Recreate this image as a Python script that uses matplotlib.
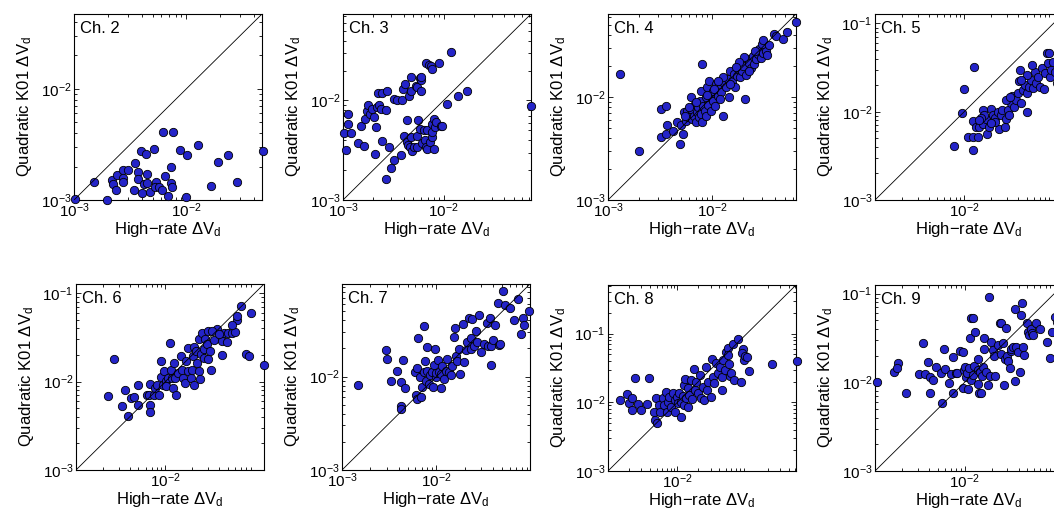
import numpy as np
import matplotlib.pyplot as plt
from matplotlib.ticker import LogLocator, FixedLocator, NullFormatter, LogFormatterSciNotation

plt.rcParams['font.family'] = ['Liberation Sans', 'DejaVu Sans']
plt.rcParams['mathtext.fontset'] = 'custom'
plt.rcParams['mathtext.rm'] = 'Liberation Sans'
plt.rcParams['mathtext.it'] = 'Liberation Sans:italic'
plt.rcParams['mathtext.bf'] = 'Liberation Sans:bold'

# (high-rate dVd, quadratic K01 dVd) pairs, in units of 1e-3
ch2_pts = [(1.02, 1.02), (1.50, 1.46), (1.95, 1.0), (2.16, 1.51), (2.24, 1.39), (2.40, 1.67),
           (2.38, 1.23), (2.73, 1.85), (2.75, 1.58), (2.75, 1.45), (3.05, 1.85), (3.47, 2.16),
           (3.42, 1.22), (3.74, 1.79), (3.71, 1.54), (3.92, 2.75), (4.0, 1.15), (4.2, 1.40),
           (4.4, 2.60), (4.5, 1.70), (4.5, 1.43), (4.75, 1.18), (5.19, 2.90), (5.33, 1.46),
           (5.2, 1.30), (5.67, 1.31), (6.03, 1.23), (6.24, 4.09), (6.46, 1.65), (6.92, 1.09),
           (7.25, 1.41), (7.35, 2.0), (7.45, 1.31), (7.55, 4.09), (8.79, 2.84), (10.1, 2.55),
           (10.0, 1.06), (12.7, 3.15), (16.5, 1.35), (19.1, 2.19), (23.2, 2.55), (28.1, 1.46),
           (48.1, 2.75)]
ch3_pts = [(1.03, 4.71), (1.08, 3.16), (1.11, 7.24), (1.11, 5.75), (1.20, 4.75), (1.41, 3.74),
           (1.51, 5.58), (1.61, 3.47), (1.67, 6.55), (1.74, 7.76), (1.79, 8.91), (1.85, 7.36),
           (1.95, 8.26), (2.03, 6.81), (2.15, 5.41), (2.09, 2.88), (2.19, 8.58), (2.27, 9.05),
           (2.36, 8.26), (2.24, 11.8), (2.45, 12.0), (2.69, 7.94), (2.71, 12.6), (2.42, 3.92),
           (2.67, 1.63), (2.88, 3.41), (2.97, 2.11), (3.24, 2.53), (3.2, 10.4), (3.41, 10.2),
           (3.78, 2.86), (3.89, 10.2), (3.98, 13.1), (4.17, 14.5), (4.04, 4.43), (4.30, 6.31),
           (4.3, 3.83), (4.4, 3.61), (4.54, 11.2), (4.71, 12.6), (4.6, 3.41), (4.7, 4.30),
           (4.79, 17.4), (4.90, 3.11), (5.09, 3.41), (5.29, 14.1), (5.4, 13.6), (5.41, 4.37),
           (5.58, 6.31), (5.5, 3.41), (5.80, 5.21), (5.85, 16.9), (5.9, 16.0), (6.03, 17.4),
           (6.0, 12.6), (6.17, 3.74), (6.41, 5.01), (6.5, 4.04), (6.65, 3.41), (6.9, 5.01),
           (6.65, 23.8), (6.81, 3.26), (7.19, 22.9), (7.4, 3.83), (7.47, 22.2), (7.6, 4.30),
           (7.6, 20.7), (7.7, 4.82), (7.75, 5.84), (8.07, 6.55), (8.07, 3.28), (8.2, 5.41),
           (8.5, 6.12), (8.91, 23.8), (9.4, 5.5), (9.6, 5.5), (10.8, 9.12), (13.9, 11.0),
           (17.2, 12.6), (11.8, 30.4), (74.1, 8.77)]
ch4_pts = [(1.31, 16.9), (1.98, 2.99), (3.2, 7.66), (3.57, 8.25), (3.2, 4.08), (3.57, 4.33),
           (3.71, 5.29), (4.24, 4.63), (4.56, 5.7), (4.88, 3.47), (5.25, 4.33), (4.99, 5.29),
           (5.37, 7.11), (5.65, 5.91), (5.8, 7.38), (5.91, 6.37), (6.22, 7.66), (6.3, 9.93),
           (6.45, 6.14), (6.7, 6.61), (6.8, 8.56), (6.96, 5.7), (7.22, 7.11), (7.3, 7.94),
           (7.5, 6.37), (7.65, 9.22), (7.78, 11.5), (7.9, 6.86), (8.07, 20.8), (8.07, 5.7),
           (8.25, 8.25), (8.5, 7.38), (8.7, 9.93), (8.75, 6.61), (9.02, 12.6), (9.2, 8.43),
           (9.36, 14.4), (9.55, 10.4), (9.7, 7.38), (10.1, 9.22), (10.3, 11.5), (10.6, 8.13),
           (10.8, 13.3), (11.3, 10.3), (11.7, 11.9), (12.1, 11.1), (12.6, 6.61), (13.1, 13.8),
           (13.5, 12.4), (14.1, 14.9), (14.5, 9.93), (14.9, 17.9), (15.4, 14.4), (16.1, 16.9),
           (16.5, 12.6), (17.3, 16.1), (17.8, 18.6), (18.7, 15.5), (19.2, 17.9), (19.9, 20.1),
           (20.8, 9.5), (21.0, 16.4), (22.0, 23.3), (22.8, 21.6), (23.6, 19.3), (24.5, 25.1),
           (25.5, 20.8), (26.4, 23.3), (27.4, 26.0), (28.5, 29.0), (29.5, 24.1), (30.7, 27.0),
           (31.8, 31.3), (33.0, 28.0), (34.0, 25.7), (39.6, 41.1), (41.0, 39.0), (47.7, 37.0),
           (52.1, 43.0), (64.0, 53.7), (20.3, 24.5), (18.0, 22.0), (12.6, 15.5), (11.3, 14.4),
           (6.0, 8.0), (7.0, 9.0), (9.0, 10.5), (10.5, 12.0), (5.5, 6.5), (12.0, 9.5),
           (15.0, 13.5), (17.0, 19.5), (22.5, 18.0), (26.0, 28.0), (30.0, 33.0), (31.0, 35.5),
           (35.0, 32.0)]
ch5_pts = [(7.7, 4.12), (9.9, 17.9), (9.5, 9.8), (12.9, 31.8), (11.1, 5.12), (12.5, 7.91),
           (12.6, 5.12), (12.6, 3.68), (14.4, 5.12), (13.6, 6.76), (14.7, 6.8), (16.1, 7.25),
           (17.6, 8.19), (17.8, 5.54), (19.2, 6.76), (20.0, 10.6), (20.9, 9.17), (22.0, 8.41),
           (23.8, 10.0), (24.5, 6.31), (26.0, 9.17), (26.5, 10.4), (28.4, 6.65), (29.5, 8.33),
           (31.0, 10.4), (32.0, 9.17), (33.8, 12.4), (34.5, 15.0), (36.0, 11.4), (38.5, 13.6),
           (40.0, 16.4), (42.0, 29.6), (41.0, 22.2), (43.5, 12.4), (45.7, 17.6), (47.5, 20.0),
           (49.9, 10.0), (51.0, 16.2), (52.8, 19.1), (55.9, 22.8), (59.0, 18.5), (62.0, 28.4),
           (64.5, 21.0), (67.7, 24.9), (70.0, 18.9), (73.8, 31.0), (79.0, 18.0), (80.0, 27.5),
           (84.0, 45.7), (89.0, 45.7), (86.0, 35.3), (91.0, 24.5), (94.0, 29.5), (99.0, 36.7),
           (104, 28.5), (109, 21.0), (113, 37.0), (16.1, 10.4), (16.8, 9.17), (15.4, 8.41),
           (14.7, 8.05), (22.0, 7.7), (20.0, 7.4), (29.7, 13.6), (49.9, 25.8), (57.0, 33.8),
           (43.5, 22.8), (33.0, 14.8)]
ch6_pts = [(2.27, 6.93), (2.66, 17.8), (3.3, 5.24), (3.54, 8.11), (3.77, 4.04), (4.11, 6.58),
           (4.48, 6.65), (4.89, 5.48), (4.89, 9.25), (6.19, 7.11), (6.76, 9.49), (6.8, 5.48),
           (6.8, 4.48), (6.6, 7.11), (7.43, 7.11), (7.7, 8.47), (8.11, 9.25), (8.4, 7.11),
           (8.85, 11.2), (8.9, 17.0), (9.4, 9.25), (9.66, 13.1), (10.1, 10.1), (10.2, 9.01),
           (10.7, 11.0), (11.4, 27.5), (11.7, 13.7), (11.9, 11.0), (12.4, 16.3), (12.3, 8.47),
           (12.7, 11.0), (13.3, 7.11), (13.9, 12.5), (14.9, 19.4), (15.4, 13.7), (15.8, 11.0),
           (16.6, 9.66), (17.0, 17.0), (17.8, 13.1), (18.1, 23.7), (19.4, 11.0), (19.7, 13.7),
           (20.2, 19.4), (21.1, 9.25), (21.1, 24.5), (22.0, 22.1), (22.5, 16.3), (23.5, 30.0),
           (24.0, 13.1), (24.5, 10.7), (25.0, 20.3), (25.6, 35.7), (26.8, 23.1), (27.0, 18.5),
           (27.9, 30.0), (29.0, 26.3), (29.8, 37.3), (30.3, 17.8), (31.7, 22.1), (32.5, 13.7),
           (34.6, 29.7), (38.0, 39.0), (43.3, 19.8), (43.3, 28.7), (45.0, 35.7), (49.2, 28.3),
           (50.0, 35.7), (56.2, 35.0), (60.0, 36.0), (63.0, 49.8), (64.0, 55.3), (70.0, 71.8),
           (90.8, 59.3), (80.0, 20.3), (87.0, 19.4), (127, 15.6), (33.3, 37.3), (39.7, 34.5),
           (56.2, 44.0)]
ch7_pts = [(1.47, 8.22), (2.91, 19.4), (3.01, 15.4), (3.32, 9.06), (3.79, 11.4), (4.18, 8.7),
           (4.18, 4.8), (4.18, 4.53), (4.46, 15.0), (4.68, 7.51), (5.88, 11.1), (6.04, 6.28),
           (6.3, 5.78), (6.3, 12.3), (6.44, 26.2), (6.7, 10.0), (6.9, 6.03), (7.1, 7.7),
           (7.3, 11.3), (7.39, 34.9), (7.7, 9.06), (7.5, 14.6), (7.9, 20.5), (8.0, 11.6),
           (8.36, 8.36), (8.55, 10.3), (8.9, 11.3), (9.3, 7.7), (9.45, 13.4), (9.7, 19.7),
           (9.8, 10.0), (10.0, 11.0), (10.4, 15.0), (10.7, 11.3), (11.1, 7.6), (11.2, 10.7),
           (11.6, 13.1), (12.0, 9.4), (12.5, 11.6), (13.0, 15.4), (13.7, 11.3), (14.2, 10.3),
           (14.8, 13.1), (15.2, 26.7), (15.8, 33.5), (16.0, 16.7), (16.7, 14.6), (17.4, 19.7),
           (17.7, 10.7), (18.9, 36.3), (19.7, 14.3), (20.5, 19.2), (21.3, 23.2), (21.9, 42.8),
           (23.0, 26.2), (24.0, 41.0), (23.0, 19.7), (25.0, 21.3), (26.2, 30.8), (27.2, 23.2),
           (28.5, 45.7), (30.0, 18.3), (32.0, 22.2), (34.0, 37.9), (35.0, 21.2), (37.0, 42.8),
           (37.8, 13.3), (37.8, 21.2), (40.0, 24.5), (41.5, 35.8), (44.5, 60.8), (45.5, 21.9),
           (47.0, 22.2), (50.4, 82.2), (53.5, 57.8), (60.8, 54.7), (66.0, 40.1), (73.9, 68.1),
           (78.0, 28.4), (82.0, 42.8), (84.0, 35.8), (96.8, 50.4)]
ch8_pts = [(1.51, 10.8), (1.85, 13.2), (2.0, 9.67), (2.19, 11.7), (2.24, 7.73), (2.42, 22.9),
           (2.7, 9.35), (2.96, 7.73), (3.62, 9.35), (3.91, 22.4), (4.62, 7.31), (4.76, 5.53),
           (4.89, 11.7), (5.05, 4.95), (5.35, 9.1), (5.65, 7.31), (6.11, 11.4), (6.3, 9.1),
           (6.84, 14.3), (7.0, 7.31), (7.4, 10.2), (7.6, 12.1), (8.1, 8.65), (8.55, 13.6),
           (9.1, 10.8), (9.2, 7.31), (9.9, 12.1), (10.1, 9.7), (10.7, 13.8), (11.1, 6.18),
           (11.3, 10.2), (11.9, 12.4), (12.6, 17.9), (12.6, 9.1), (13.0, 21.6), (13.3, 11.4),
           (14.1, 16.0), (14.4, 8.65), (14.9, 12.7), (15.8, 21.0), (16.2, 11.0), (17.1, 30.6),
           (17.7, 15.1), (18.7, 19.9), (19.8, 13.6), (20.9, 25.0), (22.0, 11.4), (23.0, 16.8),
           (24.0, 10.8), (25.5, 32.4), (27.0, 15.1), (28.0, 19.9), (30.0, 12.1), (31.0, 42.3),
           (33.0, 23.5), (34.0, 18.9), (36.5, 37.0), (38.5, 26.5), (41.0, 32.4), (43.3, 15.1),
           (43.3, 23.1), (46.0, 41.4), (49.0, 30.0), (50.0, 54.7), (53.0, 61.0), (54.0, 49.0),
           (55.0, 36.0), (57.0, 24.0), (60.0, 26.5), (62.5, 70.7), (66.0, 21.0), (75.6, 82.6),
           (82.0, 19.9), (87.0, 59.0), (86.0, 53.0), (90.0, 41.4), (95.0, 47.0), (99.0, 45.0),
           (106, 28.9), (231, 35.7), (520, 40.4)]
ch9_pts = [(1.06, 10.2), (1.61, 13.2), (1.79, 16.7), (1.75, 14.4), (2.22, 7.64), (3.08, 12.3),
           (3.45, 27.5), (3.65, 12.3), (3.93, 17.1), (4.1, 11.4), (4.1, 7.51), (4.47, 10.6),
           (4.73, 15.0), (5.41, 12.6), (5.65, 5.8), (5.9, 23.8), (6.0, 14.0), (6.71, 9.75),
           (6.99, 12.5), (7.32, 19.5), (7.32, 7.64), (7.98, 12.6), (8.3, 12.6), (8.93, 22.6),
           (9.5, 22.2), (9.7, 8.56), (9.9, 13.8), (10.1, 15.0), (10.4, 11.6), (10.6, 12.6),
           (10.8, 8.3), (11.3, 14.4), (11.5, 31.9), (11.8, 52.7), (12.3, 52.7), (11.8, 10.6),
           (12.3, 12.2), (12.6, 15.3), (12.9, 37.3), (14.0, 18.2), (14.0, 13.8), (14.2, 9.57),
           (14.6, 7.51), (15.0, 13.0), (15.3, 7.51), (15.5, 11.8), (16.0, 14.8), (16.3, 31.3),
           (16.6, 23.6), (17.4, 13.2), (18.2, 9.3), (18.7, 92.5), (19.4, 11.8), (19.8, 28.8),
           (20.7, 23.0), (21.2, 19.6), (21.6, 11.8), (23.6, 26.4), (24.5, 46.3), (25.5, 46.3),
           (25.5, 20.9), (26.7, 28.0), (27.5, 9.3), (28.0, 18.2), (29.0, 40.5), (29.8, 20.0),
           (30.5, 17.6), (31.7, 14.4), (32.5, 22.8), (33.0, 24.0), (34.5, 25.0), (36.0, 10.4),
           (36.6, 66.6), (37.8, 25.0), (39.5, 21.7), (41.3, 13.2), (42.5, 57.4), (43.2, 79.1),
           (44.2, 25.0), (46.0, 20.4), (49.0, 46.3), (51.0, 36.6), (52.5, 33.7), (55.0, 39.7),
           (56.5, 35.5), (58.0, 34.2), (63.0, 46.3), (69.0, 39.7), (82.0, 28.8), (90.0, 18.7),
           (94.0, 37.1), (102, 55.0), (107, 48.0)]

channels = [2, 3, 4, 5, 6, 7, 8, 9]
all_pts = [ch2_pts, ch3_pts, ch4_pts, ch5_pts, ch6_pts, ch7_pts, ch8_pts, ch9_pts]
# upper axis limit of each panel (lower limit is 1e-3 everywhere)
upper = [0.047, 0.074, 0.064, 0.128, 0.127, 0.098, 0.51, 0.125]
xtick_vals = [[1e-3, 1e-2], [1e-3, 1e-2], [1e-3, 1e-2], [1e-2],
              [1e-2], [1e-3, 1e-2], [1e-2], [1e-2]]

# panel placement in pixels (left, top), figure is 1054 x 517
W, H = 1054.0, 517.0
lefts = [74, 343, 608, 875, 76, 342, 608, 875]
tops = [14, 14, 14, 14, 284, 284, 285, 285]
pw, ph = 188, 186

face = '#2424c8'

fig = plt.figure(figsize=(W/100, H/100), dpi=100)
for i, ch in enumerate(channels):
    ax = fig.add_axes([lefts[i]/W, 1 - (tops[i] + ph)/H, pw/W, ph/H])
    pts = np.array(all_pts[i]) * 1e-3
    U = upper[i]
    ax.plot(pts[:, 0], pts[:, 1], 'o', ms=6, mfc=face, mec='k', mew=0.6,
            clip_on=False, zorder=3)
    ax.plot([1e-3, U], [1e-3, U], '-k', lw=0.6, zorder=4)
    ax.set_xscale('log')
    ax.set_yscale('log')
    ax.set_xlim(1e-3, U)
    ax.set_ylim(1e-3, U)
    ax.xaxis.set_major_locator(FixedLocator(xtick_vals[i]))
    ax.yaxis.set_major_locator(FixedLocator([10.0**k for k in range(-3, 0) if 10.0**k <= U]))
    ax.xaxis.set_major_formatter(LogFormatterSciNotation())
    ax.yaxis.set_major_formatter(LogFormatterSciNotation())
    for axis in (ax.xaxis, ax.yaxis):
        axis.set_minor_locator(LogLocator(base=10, subs=np.arange(2, 10), numticks=20))
        axis.set_minor_formatter(NullFormatter())
    ax.tick_params(which='both', direction='in', top=True, right=True, width=0.6, labelsize=11)
    ax.tick_params(which='major', length=3.5)
    ax.tick_params(which='minor', length=2)
    ax.tick_params(axis='x', pad=1)
    ax.tick_params(axis='y', pad=2)
    for s in ax.spines.values():
        s.set_linewidth(0.8)
    ax.text(0.03, 0.965, 'Ch. %d' % ch, transform=ax.transAxes, ha='left', va='top', fontsize=12)
    ax.set_xlabel('High\u2212rate $\\Delta\\mathrm{V}_\\mathrm{d}$', fontsize=12)
    ax.set_ylabel('Quadratic K01 $\\Delta\\mathrm{V}_\\mathrm{d}$', fontsize=12)
    ax.xaxis.set_label_coords(0.5, -0.108)
    ax.yaxis.set_label_coords(-0.215, 0.5)

fig.savefig('out.png', dpi=100)
